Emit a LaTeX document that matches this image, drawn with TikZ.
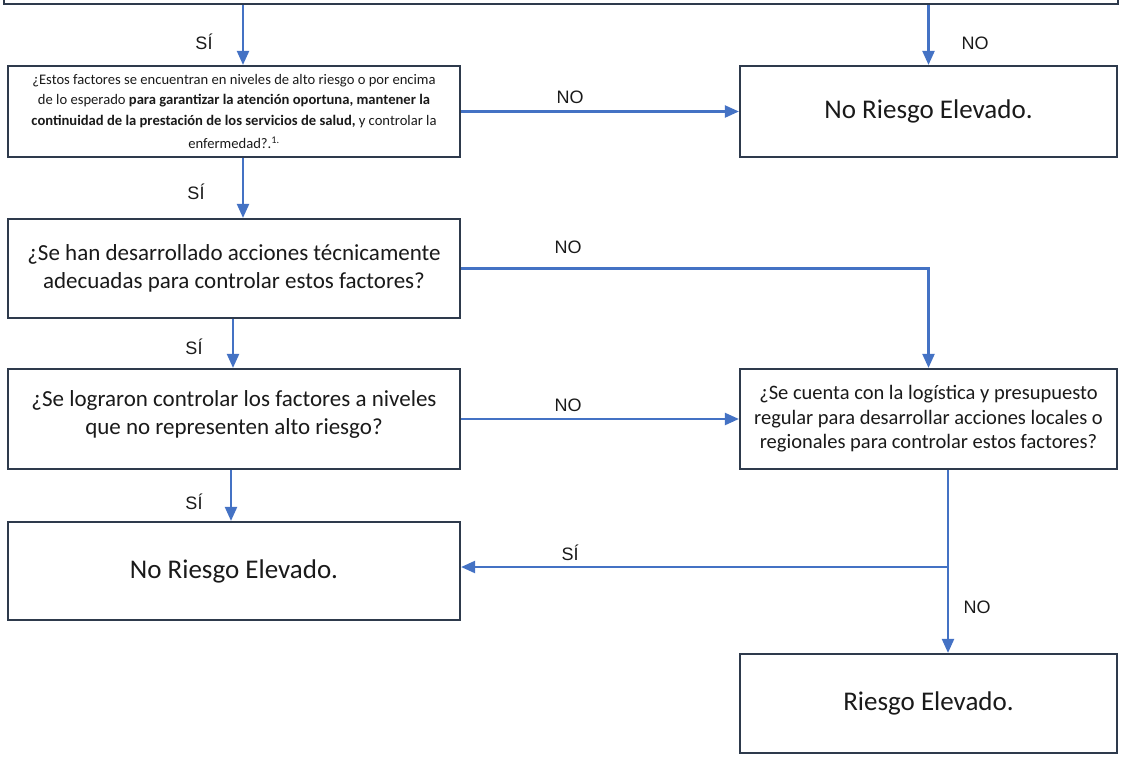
\documentclass[tikz,border=0pt]{standalone}
\usepackage{fontspec}
\setmainfont{Carlito}
\newfontfamily\labfont{Liberation Sans}
\usetikzlibrary{arrows.meta}
\definecolor{flow}{HTML}{4472C4}
\definecolor{edgec}{HTML}{2E3A4C}
\definecolor{txt}{HTML}{1A1A1A}
\begin{document}
\begin{tikzpicture}[x=1pt,y=-1pt,
  box/.style={draw=edgec, line width=2.2pt, fill=white, inner sep=4pt, align=center, text=txt},
  arr/.style={draw=flow, line width=2.2pt, -{Triangle[length=14pt,width=12pt]}},
  lab/.style={font=\labfont\fontsize{18}{20}\selectfont, text=txt},
  big/.style={font=\fontsize{27}{30}\selectfont},
  mid/.style={font=\fontsize{23}{28}\selectfont},
  sml/.style={font=\fontsize{20.5}{24.5}\selectfont}]
\useasboundingbox (0,0) rectangle (1127,761);
\begin{scope}
\clip (0,0) rectangle (1127,761);
\node[box, minimum width=1114pt, minimum height=44pt] (top) at (561,-18) {};
\end{scope}
\node[box, minimum width=452pt, minimum height=91pt, font=\fontsize{14.6}{20.5}\selectfont] (q1) at (234,111.5)
  {¿Estos factores se encuentran en niveles de alto riesgo o por encima\\
   de lo esperado \textbf{para garantizar la atención oportuna, mantener la}\\
   \textbf{continuidad de la prestación de los servicios de salud,} y controlar la\\[3pt]
   enfermedad?.\textsuperscript{1.}};
\node[box, big, minimum width=377pt, minimum height=91pt] (nr1) at (928.5,111.5) {No Riesgo Elevado.};
\node[box, mid, minimum width=452pt, minimum height=99pt] (q2) at (234,268.5)
  {¿Se han desarrollado acciones técnicamente\\ adecuadas para controlar estos factores?\\[-24pt]\mbox{}};
\node[box, mid, minimum width=452pt, minimum height=100pt] (q3) at (234,419)
  {¿Se lograron controlar los factores a niveles\\ que no representen alto riesgo?\\[-16pt]\mbox{}};
\node[box, sml, minimum width=377pt, minimum height=100pt] (q4) at (928.5,419)
  {¿Se cuenta con la logística y presupuesto\\ regular para desarrollar acciones locales o\\ regionales para controlar estos factores?};
\node[box, big, minimum width=452pt, minimum height=98pt] (nr2) at (234,571) {No Riesgo Elevado.};
\node[box, big, minimum width=377pt, minimum height=99pt] (re) at (928.5,703.5) {Riesgo Elevado.};

\coordinate (xa) at (243,0);
\coordinate (xb) at (233,0);
\coordinate (xc) at (231,0);
\coordinate (xd) at (948,0);
\coordinate (j) at (948,567);

\draw[arr] (top.south -| xa) -- (q1.north -| xa);
\draw[arr] (top.south -| nr1.north) -- (nr1.north);
\draw[arr] (q1.east) -- (nr1.west);
\draw[arr] (q1.south -| xa) -- (q2.north -| xa);
\draw[arr] (q2.east) -| (q4.north);
\draw[arr] (q2.south -| xb) -- (q3.north -| xb);
\draw[arr] (q3.east) -- (q4.west);
\draw[arr] (q3.south -| xc) -- (nr2.north -| xc);
\draw[arr] (q4.south -| xd) -- (re.north -| xd);
\draw[arr] (j) -- (j -| nr2.east);

\node[lab] (l1) at (204,42) {SÍ};
\node[lab] (l2) at (975,43) {NO};
\node[lab] (l3) at (570,97) {NO};
\node[lab] (l4) at (196,192) {SÍ};
\node[lab] (l5) at (568,247) {NO};
\node[lab] (l6) at (194,347) {SÍ};
\node[lab] (l7) at (568,405) {NO};
\node[lab] (l8) at (194,502) {SÍ};
\node[lab] (l9) at (570,553) {SÍ};
\node[lab] (l10) at (977,607) {NO};
\end{tikzpicture}
\end{document}
